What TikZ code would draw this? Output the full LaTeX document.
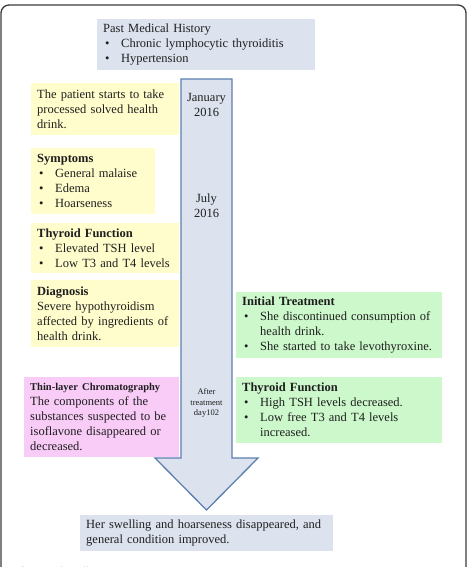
\documentclass[tikz,border=0pt]{standalone}
\usepackage{fontspec}
\setmainfont{Liberation Serif}
\setsansfont{Liberation Sans}
\definecolor{frameink}{HTML}{3A3A3A}
\definecolor{histfill}{HTML}{DCE3EE}
\definecolor{notefill}{HTML}{FFFDCC}
\definecolor{carefill}{HTML}{CCF8CC}
\definecolor{labfill}{HTML}{F9CCF8}
\definecolor{arrowline}{HTML}{5B7FAF}
\definecolor{ink}{HTML}{1E1E1E}

% bullet line, and a wrapped line kept under the bullet text
\newcommand{\bitem}[1]{\par\noindent\makebox[18pt][l]{\hspace{2pt}\textbullet}#1}
\newcommand{\bcont}[1]{\par\noindent\hspace*{18pt}#1}

\begin{document}
\begin{tikzpicture}[x=1pt,y=-1pt,text=ink,line join=miter,
    panel/.style={anchor=north west,inner xsep=6pt,inner ysep=0pt,align=left,
      font=\fontsize{12.5}{15}\selectfont},
    stamp/.style={align=center,font=\fontsize{12.5}{15}\selectfont}]
  \useasboundingbox (0,0) rectangle (469,567);

  % frame of the figure, running off the page at the bottom
  \draw[frameink,line width=1.3pt,rounded corners=8pt] (1,5) rectangle (466,640);

  % the timeline arrow
  \pgfmathsetmacro{\shaftL}{181}
  \pgfmathsetmacro{\shaftR}{232}
  \pgfmathsetmacro{\headL}{155}
  \pgfmathsetmacro{\headR}{258}
  \coordinate (top L) at (\shaftL,79);
  \coordinate (top R) at (\shaftR,79);
  \coordinate (neck L) at (\shaftL,458);
  \coordinate (neck R) at (\shaftR,458);
  \coordinate (tip) at (206.5,510);
  \draw[arrowline,fill=histfill,line width=1.3pt]
    (top L) -- (top R) -- (neck R) -- (\headR,458) -- (tip)
    -- (\headL,458) -- (neck L) -- cycle;

  \node[stamp] (jan) at (206.5,105) {January\\2016};
  \node[stamp] (july) at (206.5,206) {July\\2016};
  \node[align=center,font=\fontsize{8.5}{10.5}\selectfont] (day)
    at (206.5,403) {After\\treatment\\day102};

  % left column
  \node[panel,fill=histfill,text width=206pt,minimum height=51pt] (history)
    at (97,19) {Past Medical History
      \bitem{Chronic lymphocytic thyroiditis}
      \bitem{Hypertension}};
  \node[panel,fill=notefill,text width=136pt,minimum height=52pt] (start)
    at (31,83) {The patient starts to take\\processed solved health\\drink.};
  \node[panel,fill=notefill,text width=112pt,minimum height=66pt] (symptoms)
    at (31,148) {\textbf{Symptoms}
      \bitem{General malaise}
      \bitem{Edema}
      \bitem{Hoarseness}};
  \node[panel,fill=notefill,text width=136pt,minimum height=50pt] (thyroid pre)
    at (31,223) {\textbf{Thyroid Function}
      \bitem{Elevated TSH level}
      \bitem{Low T3 and T4 levels}};
  \node[panel,fill=notefill,text width=136pt,minimum height=67pt] (diagnosis)
    at (31,280) {\textbf{Diagnosis}\\Severe hypothyroidism\\affected by ingredients of\\health drink.};
  \node[panel,fill=labfill,text width=143pt,minimum height=80pt] (tlc)
    at (24,377) {{\fontsize{10.5}{15}\selectfont\textbf{Thin-layer Chromatography}}\\
      The components of the\\substances suspected to be\\isoflavone disappeared or\\decreased.};

  % right column
  \node[panel,fill=carefill,text width=194pt,minimum height=66pt] (treatment)
    at (236,292) {\textbf{Initial Treatment}
      \bitem{She discontinued consumption of}
      \bcont{health drink.}
      \bitem{She started to take levothyroxine.}};
  \node[panel,fill=carefill,text width=194pt,minimum height=66pt] (thyroid post)
    at (236,377) {\textbf{Thyroid Function}
      \bitem{High TSH levels decreased.}
      \bitem{Low free T3 and T4 levels}
      \bcont{increased.}};

  % outcome
  \node[panel,fill=histfill,text width=241pt,minimum height=36pt] (outcome)
    at (80,515) {Her swelling and hoarseness disappeared, and\\general condition improved.};

  \node[anchor=base west,inner sep=0pt,font=\sffamily\fontsize{14}{16}\selectfont] (caption)
    at (12,577) {\textbf{Fig.~2} Timeline};
\end{tikzpicture}
\end{document}
